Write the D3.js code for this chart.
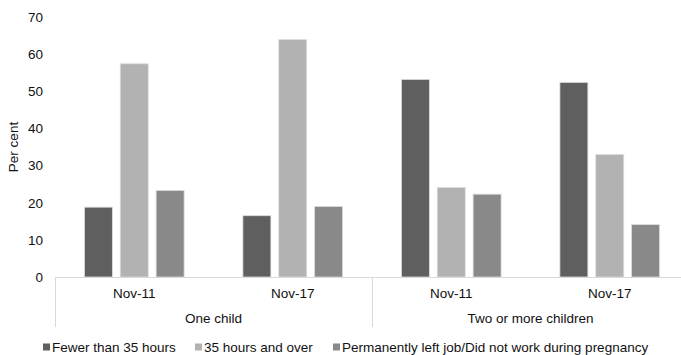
<!DOCTYPE html>
<html>
<head>
<meta charset="utf-8">
<script src="https://cdn.jsdelivr.net/npm/d3@7"></script>
<style>
  html, body { margin: 0; padding: 0; background: #fff; }
  svg { display: block; }
  text { font-family: "Liberation Sans", Arial, sans-serif; fill: #111; }
</style>
</head>
<body>
<svg id="chart" width="681" height="355"></svg>
<script>
// ---- data ----
const groups = ["One child", "Two or more children"];
const periods = ["Nov-11", "Nov-17"];
const seriesNames = ["Fewer than 35 hours", "35 hours and over", "Permanently left job/Did not work during pregnancy"];
const fewerThan35 = [18.8, 16.5, 53.2, 52.4];
const over35 = [57.4, 63.9, 24.1, 33.0];
const leftJob = [23.3, 19.0, 22.3, 14.1];
const yTicks = [0, 10, 20, 30, 40, 50, 60, 70];
const colors = ["#5f5f5f", "#b2b2b2", "#898989"];

const seriesValues = [fewerThan35, over35, leftJob];
const rows = [];
groups.forEach((g, gi) => periods.forEach((p, pi) => {
  const idx = gi * periods.length + pi;
  rows.push({ group: g, period: p, key: g + "|" + p, values: seriesValues.map(s => s[idx]) });
}));

const svg = d3.select("#chart");
const mLeft = 55, mRight = 689, mTop = 17, mBottom = 277;

const y = d3.scaleLinear().domain([0, 70]).range([mBottom, mTop]);
const xGroup = d3.scaleBand().domain(groups).range([mLeft, mRight]).padding(0);
const xCat = d3.scaleBand().domain(rows.map(r => r.key)).range([mLeft, mRight]).padding(0);
const xSeries = d3.scaleBand().domain(seriesNames).range([0, xCat.bandwidth()])
  .paddingInner(0.22).paddingOuter(0.82);

// bars
const cat = svg.append("g").selectAll("g").data(rows).join("g")
  .attr("transform", d => `translate(${xCat(d.key)},0)`);
cat.selectAll("rect").data(d => d.values.map((v, i) => ({ v, s: seriesNames[i], i })))
  .join("rect")
  .attr("x", d => xSeries(d.s))
  .attr("width", xSeries.bandwidth())
  .attr("y", d => y(d.v))
  .attr("height", d => y(0) - y(d.v))
  .attr("fill", d => colors[d.i])
  .attr("stroke", "#dcdcdc")
  .attr("stroke-width", 0.8);

// y axis (labels only)
const yAxis = d3.axisLeft(y).tickValues(yTicks).tickSize(0).tickPadding(12);
const yg = svg.append("g").attr("transform", `translate(${mLeft},0)`).call(yAxis);
yg.select(".domain").remove();
yg.selectAll("text").style("font-size", "13.5px").style("font-family", "Liberation Sans, Arial, sans-serif").attr("fill", "#111");

// x axis line
svg.append("line").attr("x1", mLeft).attr("x2", mRight).attr("y1", mBottom + 0.5).attr("y2", mBottom + 0.5)
  .attr("stroke", "#d9d9d9").attr("stroke-width", 1);

// group separators
const seps = groups.map(g => xGroup(g)).concat([xGroup(groups[groups.length - 1]) + xGroup.bandwidth()]);
svg.append("g").selectAll("line").data(seps).join("line")
  .attr("x1", d => Math.round(d) + 0.5).attr("x2", d => Math.round(d) + 0.5)
  .attr("y1", mBottom).attr("y2", mBottom + 50)
  .attr("stroke", "#d9d9d9").attr("stroke-width", 1);

// period labels
svg.append("g").selectAll("text").data(rows).join("text")
  .attr("x", d => xCat(d.key) + xCat.bandwidth() / 2)
  .attr("y", mBottom + 21)
  .attr("text-anchor", "middle")
  .style("font-size", "13.5px")
  .text(d => d.period);

// group labels
svg.append("g").selectAll("text").data(groups).join("text")
  .attr("x", d => xGroup(d) + xGroup.bandwidth() / 2)
  .attr("y", mBottom + 46)
  .attr("text-anchor", "middle")
  .style("font-size", "13.5px")
  .text(d => d);

// y title
svg.append("text")
  .attr("transform", `translate(18,${(mTop + mBottom) / 2}) rotate(-90)`)
  .attr("text-anchor", "middle")
  .style("font-size", "13.5px")
  .text("Per cent");

// legend
const legendX = [43, 195, 333];
const lg = svg.append("g").selectAll("g").data(seriesNames).join("g")
  .attr("transform", (d, i) => `translate(${legendX[i]},343.5)`);
lg.append("rect").attr("width", 7).attr("height", 7).attr("fill", (d, i) => colors[i]);
lg.append("text").attr("x", 9).attr("y", 8).style("font-size", "13.5px").text(d => d);
</script>
</body>
</html>
